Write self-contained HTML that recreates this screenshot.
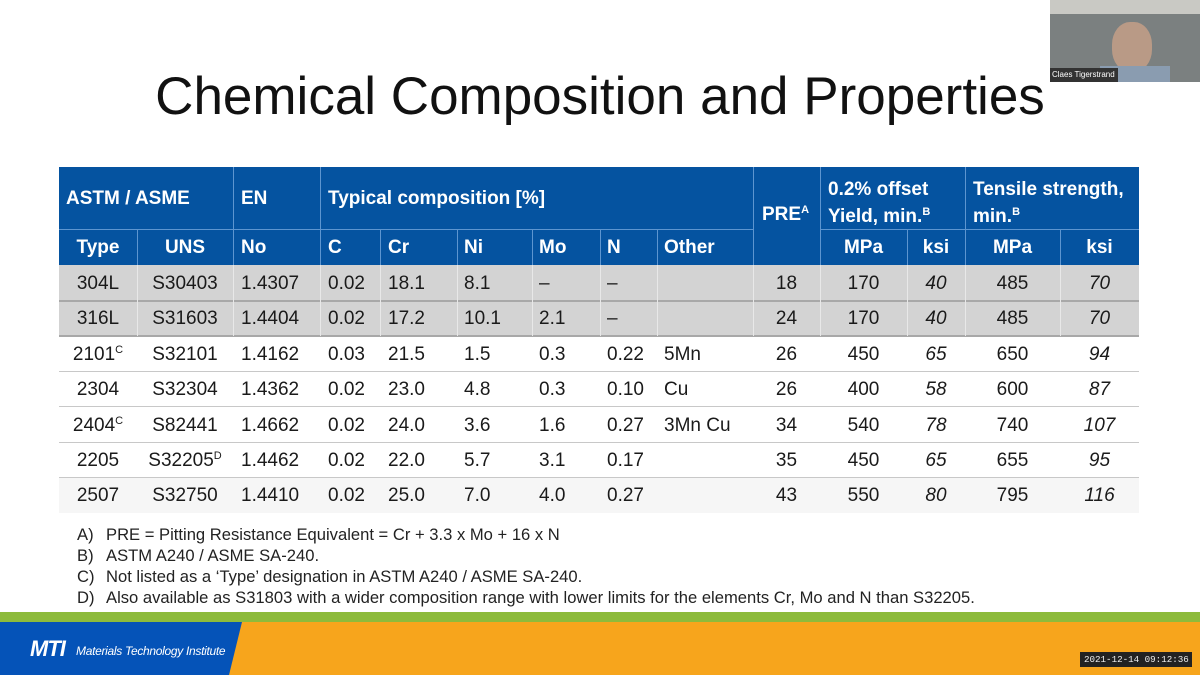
<!DOCTYPE html>
<html><head><meta charset="utf-8"><style>
*{margin:0;padding:0;box-sizing:border-box}
body{width:1200px;height:675px;background:#fff;position:relative;overflow:hidden;font-family:"Liberation Sans",Arial,sans-serif;color:#1a1a1a}
.title{position:absolute;left:0;width:1200px;top:66px;text-align:center;font-size:53px;color:#111}
.c{position:absolute;font-size:19px;line-height:1;white-space:nowrap}
.h{color:#fff;font-weight:bold}
.cell{position:absolute}
.notes{position:absolute;left:77px;top:524px;font-size:16.6px;line-height:21px;color:#222}
.notes span{display:inline-block;width:29px}
sup{font-size:11px;vertical-align:7px;font-weight:normal}
.h sup{font-weight:bold}
</style></head><body>
<div class="title">Chemical Composition and Properties</div>

<div class="cell" style="left:59px;top:167px;width:1080px;height:98px;background:#0553a0"></div>
<div class="cell" style="left:59px;top:229px;width:694px;height:1px;background:#5d95d0"></div>
<div class="cell" style="left:820px;top:229px;width:319px;height:1px;background:#5d95d0"></div>
<div class="cell" style="left:233px;top:167px;width:1px;height:98px;background:#5d95d0"></div>
<div class="cell" style="left:320px;top:167px;width:1px;height:98px;background:#5d95d0"></div>
<div class="cell" style="left:753px;top:167px;width:1px;height:98px;background:#5d95d0"></div>
<div class="cell" style="left:820px;top:167px;width:1px;height:98px;background:#5d95d0"></div>
<div class="cell" style="left:965px;top:167px;width:1px;height:98px;background:#5d95d0"></div>
<div class="cell" style="left:137px;top:230px;width:1px;height:35px;background:#5d95d0"></div>
<div class="cell" style="left:380px;top:230px;width:1px;height:35px;background:#5d95d0"></div>
<div class="cell" style="left:457px;top:230px;width:1px;height:35px;background:#5d95d0"></div>
<div class="cell" style="left:532px;top:230px;width:1px;height:35px;background:#5d95d0"></div>
<div class="cell" style="left:600px;top:230px;width:1px;height:35px;background:#5d95d0"></div>
<div class="cell" style="left:657px;top:230px;width:1px;height:35px;background:#5d95d0"></div>
<div class="cell" style="left:907px;top:230px;width:1px;height:35px;background:#5d95d0"></div>
<div class="cell" style="left:1060px;top:230px;width:1px;height:35px;background:#5d95d0"></div>

<div class="c h" style="left:66px;top:189px">ASTM / ASME</div>
<div class="c h" style="left:241px;top:189px">EN</div>
<div class="c h" style="left:328px;top:189px">Typical composition [%]</div>
<div class="c h" style="left:762px;top:205px">PRE<sup>A</sup></div>
<div class="c h" style="left:828px;top:178px;line-height:23px">0.2% offset<br>Yield, min.<sup>B</sup></div>
<div class="c h" style="left:973px;top:178px;line-height:23px">Tensile strength,<br>min.<sup>B</sup></div>

<div class="c h" style="left:59px;width:78px;text-align:center;top:238px">Type</div>
<div class="c h" style="left:137px;width:96px;text-align:center;top:238px">UNS</div>
<div class="c h" style="left:241px;top:238px">No</div>
<div class="c h" style="left:328px;top:238px">C</div>
<div class="c h" style="left:388px;top:238px">Cr</div>
<div class="c h" style="left:464px;top:238px">Ni</div>
<div class="c h" style="left:539px;top:238px">Mo</div>
<div class="c h" style="left:607px;top:238px">N</div>
<div class="c h" style="left:664px;top:238px">Other</div>
<div class="c h" style="left:820px;width:87px;text-align:center;top:238px">MPa</div>
<div class="c h" style="left:907px;width:58px;text-align:center;top:238px">ksi</div>
<div class="c h" style="left:965px;width:95px;text-align:center;top:238px">MPa</div>
<div class="c h" style="left:1060px;width:79px;text-align:center;top:238px">ksi</div>

<div class="cell" style="left:59px;top:265px;width:1080px;height:71px;background:#d3d3d3"></div>
<div class="cell" style="left:59px;top:478px;width:1080px;height:35px;background:#f6f6f6"></div>
<div class="cell" style="left:59px;top:300px;width:1080px;height:2px;background:#a8a8a8"></div>
<div class="cell" style="left:59px;top:335px;width:1080px;height:2px;background:#a8a8a8"></div>
<div class="cell" style="left:59px;top:371px;width:1080px;height:1px;background:#c8c8c8"></div>
<div class="cell" style="left:59px;top:406px;width:1080px;height:1px;background:#c8c8c8"></div>
<div class="cell" style="left:59px;top:442px;width:1080px;height:1px;background:#c8c8c8"></div>
<div class="cell" style="left:59px;top:477px;width:1080px;height:1px;background:#c8c8c8"></div>
<div class="cell" style="left:137px;top:265px;width:1px;height:71px;background:#e8e8e8"></div>
<div class="cell" style="left:233px;top:265px;width:1px;height:71px;background:#e8e8e8"></div>
<div class="cell" style="left:320px;top:265px;width:1px;height:71px;background:#e8e8e8"></div>
<div class="cell" style="left:380px;top:265px;width:1px;height:71px;background:#e8e8e8"></div>
<div class="cell" style="left:457px;top:265px;width:1px;height:71px;background:#e8e8e8"></div>
<div class="cell" style="left:532px;top:265px;width:1px;height:71px;background:#e8e8e8"></div>
<div class="cell" style="left:600px;top:265px;width:1px;height:71px;background:#e8e8e8"></div>
<div class="cell" style="left:657px;top:265px;width:1px;height:71px;background:#e8e8e8"></div>
<div class="cell" style="left:753px;top:265px;width:1px;height:71px;background:#e8e8e8"></div>
<div class="cell" style="left:820px;top:265px;width:1px;height:71px;background:#e8e8e8"></div>
<div class="cell" style="left:907px;top:265px;width:1px;height:71px;background:#e8e8e8"></div>
<div class="cell" style="left:965px;top:265px;width:1px;height:71px;background:#e8e8e8"></div>
<div class="cell" style="left:1060px;top:265px;width:1px;height:71px;background:#e8e8e8"></div>

<div id="rows"></div>
<script>
var d=[["304L","S30403","1.4307","0.02","18.1","8.1","–","–","","18","170","40","485","70"],
["316L","S31603","1.4404","0.02","17.2","10.1","2.1"," –","","24","170","40","485","70"],
["2101<sup>C</sup>","S32101","1.4162","0.03","21.5","1.5","0.3","0.22","5Mn","26","450","65","650","94"],
["2304","S32304","1.4362","0.02","23.0","4.8","0.3","0.10","Cu","26","400","58","600","87"],
["2404<sup>C</sup>","S82441","1.4662","0.02","24.0","3.6","1.6","0.27","3Mn Cu","34","540","78","740","107"],
["2205","S32205<sup>D</sup>","1.4462","0.02","22.0","5.7","3.1","0.17","","35","450","65","655","95"],
["2507","S32750","1.4410","0.02","25.0","7.0","4.0","0.27","","43","550","80","795","116"]];
var cols=[[59,78,'c'],[137,96,'c'],[241,0,'l'],[328,0,'l'],[388,0,'l'],[464,0,'l'],[539,0,'l'],[607,0,'l'],[664,0,'l'],[753,67,'c'],[820,87,'c'],[907,58,'c'],[965,95,'c'],[1060,79,'c']];
var h='';
d.forEach(function(r,i){var t=274+i*35.4;r.forEach(function(v,j){var c=cols[j];var it=(j==11||j==13)?'font-style:italic;':'';
h+='<div class="c" style="'+it+'left:'+c[0]+'px;top:'+t+'px;'+(c[2]=='c'?'width:'+c[1]+'px;text-align:center;':'')+'">'+v+'</div>';});});
document.getElementById('rows').innerHTML=h;
</script>

<div class="notes">
<div><span>A)</span>PRE = Pitting Resistance Equivalent = Cr + 3.3 x Mo + 16 x N</div>
<div><span>B)</span>ASTM A240 / ASME SA-240.</div>
<div><span>C)</span>Not listed as a ‘Type’ designation in ASTM A240 / ASME SA-240.</div>
<div><span>D)</span>Also available as S31803 with a wider composition range with lower limits for the elements Cr, Mo and N than S32205.</div>
</div>

<div class="cell" style="left:0;top:612px;width:1200px;height:10px;background:#8dbb3c"></div>
<div class="cell" style="left:0;top:622px;width:1200px;height:53px;background:#f7a51c"></div>
<svg class="cell" style="left:0;top:622px" width="260" height="53"><polygon points="0,0 242,0 229,53 0,53" fill="#0553b8"/></svg>
<div class="c" style="left:30px;top:638px;color:#fff;font-weight:bold;font-style:italic;font-size:22px;letter-spacing:-1px">MTI</div>
<div class="c" style="left:76px;top:645px;color:#fff;font-style:italic;font-size:12px;letter-spacing:-0.3px">Materials Technology Institute</div>
<div class="cell" style="left:1080px;top:652px;width:112px;height:15px;background:#222"></div>
<div class="c" style="left:1084px;top:655px;color:#eee;font-size:9.2px;font-family:'Liberation Mono',monospace">2021-12-14 09:12:36</div>

<div class="cell" style="left:1050px;top:0;width:150px;height:82px;background:#7b8080"></div>
<div class="cell" style="left:1050px;top:0;width:150px;height:14px;background:#c9c9c4"></div>
<div class="cell" style="left:1112px;top:22px;width:40px;height:50px;background:#b99a86;border-radius:45%"></div>
<div class="cell" style="left:1100px;top:66px;width:70px;height:16px;background:#8a9cb0"></div>
<div class="cell" style="left:1050px;top:68px;width:68px;height:14px;background:#333"></div>
<div class="c" style="left:1052px;top:71px;color:#fff;font-size:8px">Claes Tigerstrand</div>
</body></html>
